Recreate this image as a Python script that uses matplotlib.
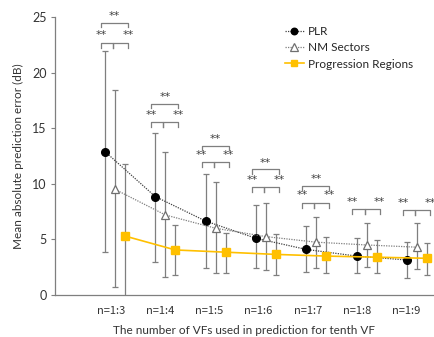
import numpy as np
import matplotlib
matplotlib.use("Agg")
import matplotlib.pyplot as plt

# ---- data ----
categories = ["n=1:3", "n=1:4", "n=1:5", "n=1:6", "n=1:7", "n=1:8", "n=1:9"]
series_names = ["PLR", "NM Sectors", "Progression Regions"]

plr_mean = [12.9, 8.85, 6.65, 5.1, 4.1, 3.5, 3.15]
plr_hi = [21.9, 14.6, 10.85, 8.1, 6.2, 5.1, 4.8]
plr_lo = [3.9, 3.0, 2.4, 2.4, 2.1, 2.0, 1.5]

nm_mean = [9.5, 7.2, 6.0, 5.25, 4.75, 4.5, 4.3]
nm_hi = [18.4, 12.9, 10.2, 8.3, 7.0, 6.5, 6.45]
nm_lo = [0.7, 1.65, 1.95, 2.25, 2.4, 2.5, 2.3]

pr_mean = [5.3, 4.05, 3.85, 3.65, 3.5, 3.4, 3.3]
pr_hi = [11.8, 6.3, 5.6, 5.5, 5.2, 4.95, 4.7]
pr_lo = [-1.2, 1.8, 1.95, 1.8, 2.0, 1.95, 1.8]

bracket_low = [22.7, 15.55, 11.95, 9.7, 8.3, 7.7, 7.65]
bracket_high = [24.5, 17.2, 13.4, 11.3, 9.8, None, None]
sig_label = "**"

yticks = [0, 5, 10, 15, 20, 25]

# ---- figure ----
W, H = 434, 337
fig = plt.figure(figsize=(W / 100, H / 100), dpi=100)
ax = fig.add_axes([55 / W, 1 - 295 / H, 1 - 55 / W, (295 - 17) / H])

x = np.arange(len(categories))
off = 0.2
grey = "#7f7f7f"
yellow = "#FFC000"

def draw(xs, mean, lo, hi):
    mean = np.array(mean); lo = np.array(lo); hi = np.array(hi)
    ax.errorbar(xs, mean, yerr=[mean - lo, hi - mean], fmt="none",
                ecolor=grey, elinewidth=0.9, capsize=2, capthick=0.9, zorder=2)

draw(x - off, plr_mean, plr_lo, plr_hi)
draw(x, nm_mean, nm_lo, nm_hi)
draw(x + off, pr_mean, pr_lo, pr_hi)

ax.plot(x - off, plr_mean, linestyle=(0, (1, 1)), color="#404040", lw=0.9,
        marker="o", ms=5.5, mfc="black", mec="black", label=series_names[0], zorder=4)
ax.plot(x, nm_mean, linestyle=(0, (1, 1)), color="#7f7f7f", lw=0.9,
        marker="^", ms=6, mfc="white", mec="#6f6f6f", mew=0.9, label=series_names[1], zorder=4)
ax.plot(x + off, pr_mean, linestyle="-", color=yellow, lw=1.2,
        marker="s", ms=5.5, mfc=yellow, mec=yellow, label=series_names[2], zorder=4)

# significance brackets
for i in range(len(categories)):
    xl = x[i] - off - 0.08
    xm = x[i] - 0.04
    xr = x[i] + off + 0.06
    yl = bracket_low[i]
    leg = 0.45
    for a, b in [(xl, xm), (xm, xr)]:
        ax.plot([a, a, b, b], [yl - leg, yl, yl, yl - leg], color=grey, lw=0.9,
                clip_on=False, zorder=3)
    ax.text(xl, yl + 0.65, sig_label, ha="center", va="center", fontsize=8,
            color="#404040", clip_on=False)
    ax.text(xr, yl + 0.65, sig_label, ha="center", va="center", fontsize=8,
            color="#404040", clip_on=False)
    yh = bracket_high[i]
    if yh is not None:
        ax.plot([xl, xl, xr, xr], [yh - 0.4, yh, yh, yh - 0.4], color=grey, lw=0.9,
                clip_on=False, zorder=3)
        ax.text((xl + xr) / 2, yh + 0.6, sig_label, ha="center", va="center",
                fontsize=8, color="#404040", clip_on=False)

# axes styling
ax.set_xlim(-1.193, 6.34)
ax.set_ylim(0, 25)
ax.set_yticks(yticks)
ax.set_yticklabels([str(v) for v in yticks], fontsize=9, family="Lato", color="#333333")
ax.set_xticks(np.arange(len(categories)) * 0.978 - 0.08)
ax.set_xticklabels(categories, fontsize=8, family=["Noto Sans CJK JP", "DejaVu Sans"],
                   color="#333333")
ax.tick_params(axis="x", length=0, pad=8)
ax.tick_params(axis="y", length=3, width=0.8, color=grey, pad=3)
for s in ["top", "right"]:
    ax.spines[s].set_visible(False)
for s in ["left", "bottom"]:
    ax.spines[s].set_color(grey)
    ax.spines[s].set_linewidth(0.9)

ax.set_ylabel("Mean absolute prediction error (dB)", fontsize=8.5, family="Lato",
              color="#333333", labelpad=6)
fig.text(244 / W, 1 - 330 / H, "The number of VFs used in prediction for tenth VF",
         ha="center", va="center", fontsize=8.5, family="Lato", color="#333333")

leg = ax.legend(loc="upper left", bbox_to_anchor=(285 / W, 1 - 26 / H),
                bbox_transform=fig.transFigure, frameon=False,
                prop={"family": "Lato", "size": 8.5}, handlelength=1.6,
                handletextpad=0.35, labelspacing=0.45, borderpad=0, borderaxespad=0,
                markerscale=0.85)
for t in leg.get_texts():
    t.set_color("#262626")

fig.savefig("out.png", dpi=100)
